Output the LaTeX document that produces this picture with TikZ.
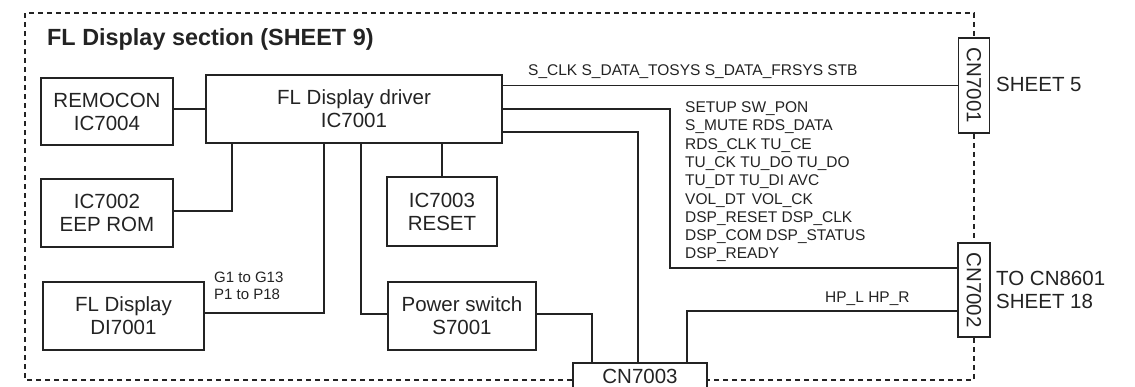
\documentclass[tikz,border=0pt]{standalone}
\usepackage{fontspec}
\setmainfont{Liberation Sans}
\definecolor{ink}{RGB}{35,35,35}
\begin{document}
\begin{tikzpicture}[x=1pt,y=-1pt,
  box/.style={draw=ink, line width=1.8pt, text=ink, align=center, inner sep=0pt, font=\fontsize{20.5}{23}\selectfont},
  wire/.style={draw=ink, line width=1.7pt},
  frame/.style={draw=ink, line width=1.5pt, dash pattern=on 5pt off 4pt},
  lbl/.style={text=ink, inner sep=0pt, font=\fontsize{15.5}{18.3}\selectfont},
  big/.style={text=ink, inner sep=0pt, font=\fontsize{20.5}{23}\selectfont}]
\useasboundingbox (0,0) rectangle (1135,386);
% boxes
\node[box, minimum width=132pt, minimum height=67pt] (remocon) at (107,111.5) {REMOCON\\IC7004};
\node[box, minimum width=296pt, minimum height=68pt] (driver) at (354,109) {FL Display driver\\IC7001};
\node[box, minimum width=132pt, minimum height=68pt] (eeprom) at (107,213) {IC7002\\EEP ROM};
\node[box, minimum width=161pt, minimum height=68pt] (fld) at (123.5,316) {FL Display\\DI7001};
\node[box, minimum width=110pt, minimum height=69pt] (reset) at (442,211.5) {IC7003\\RESET};
\node[box, minimum width=148pt, minimum height=68pt] (pwr) at (462,316) {Power switch\\S7001};
\node[box, fill=white, minimum width=134pt, minimum height=28pt] (cn7003) at (640,377) {};
\node[big] (cn7003t) at (640,376.5) {CN7003};
\node[box, minimum width=31pt, minimum height=95pt] (cn7001) at (974,85.5) {};
\node[big, rotate=-90] (cn7001t) at (cn7001) {CN7001};
\node[box, minimum width=32pt, minimum height=94pt] (cn7002) at (974,290) {};
\node[big, rotate=-90] (cn7002t) at (cn7002) {CN7002};
% labels
\node[anchor=base west, text=ink, inner sep=0pt, font=\bfseries\fontsize{23.4}{27}\selectfont] (title) at (47,45) {FL Display section (SHEET 9)};
\node[big, anchor=base west] (sheet5) at (996,91.5) {SHEET 5};
\node[big, anchor=base west] (to8601) at (996,285.3) {TO CN8601};
\node[big, anchor=base west] (sheet18) at (996,308.3) {SHEET 18};
\node[lbl, anchor=base west] (sclk) at (528,75.5) {S\_CLK S\_DATA\_TOSYS S\_DATA\_FRSYS STB};
\node[lbl, anchor=north west, align=left] (sigs) at (685,101.5) {SETUP SW\_PON\\S\_MUTE RDS\_DATA\\RDS\_CLK TU\_CE\\TU\_CK TU\_DO TU\_DO\\TU\_DT TU\_DI AVC\\VOL\_DT\hspace{2pt} VOL\_CK\\DSP\_RESET DSP\_CLK\\DSP\_COM DSP\_STATUS\\DSP\_READY};
\node[lbl, anchor=north west, align=left, font=\fontsize{15}{17}\selectfont] (gp) at (214,271.5) {G1 to G13\\P1 to P18};
\node[lbl, anchor=base west] (hp) at (825,302.5) {HP\_L HP\_R};
% wires
\draw[wire] (driver.west) -- (driver.west -| remocon.east);
\draw[wire] ([yshift=2pt]eeprom.east) -| ([xshift=-122pt]driver.south);
\draw[wire] ([yshift=3pt]fld.east) -| ([xshift=-30pt]driver.south);
\draw[wire] ([xshift=7pt]driver.south) |- ([yshift=2pt]pwr.west);
\draw[wire] (reset.north) -- (reset.north |- driver.south);
\draw[wire] ([yshift=2pt]pwr.east) -| ([xshift=-48pt]cn7003.north);
\draw[wire] ([yshift=-23pt]driver.east) -| ([xshift=-2pt]cn7003.north);
\coordinate (bend) at (670,268);
\draw[wire] (driver.east) -| (bend) -- (bend -| cn7002.west);
\draw[wire] (cn7001.west) -- (cn7001.west -| driver.east);
\draw[wire] ([xshift=47pt]cn7003.north) |- ([yshift=-21pt]cn7002.west);
% dashed frame
\coordinate (ftl) at (25,13);
\coordinate (ftr) at (974,13);
\coordinate (fbl) at (25,380);
\coordinate (fbr) at (974,380);
\draw[frame] (cn7003.west |- fbl) -- (fbl) -- (ftl) -- (ftr) -- (cn7001.north);
\draw[frame] (cn7001.south) -- (cn7002.north);
\draw[frame] (cn7002.south) -- (fbr) -- (fbr -| cn7003.east);
\end{tikzpicture}
\end{document}
